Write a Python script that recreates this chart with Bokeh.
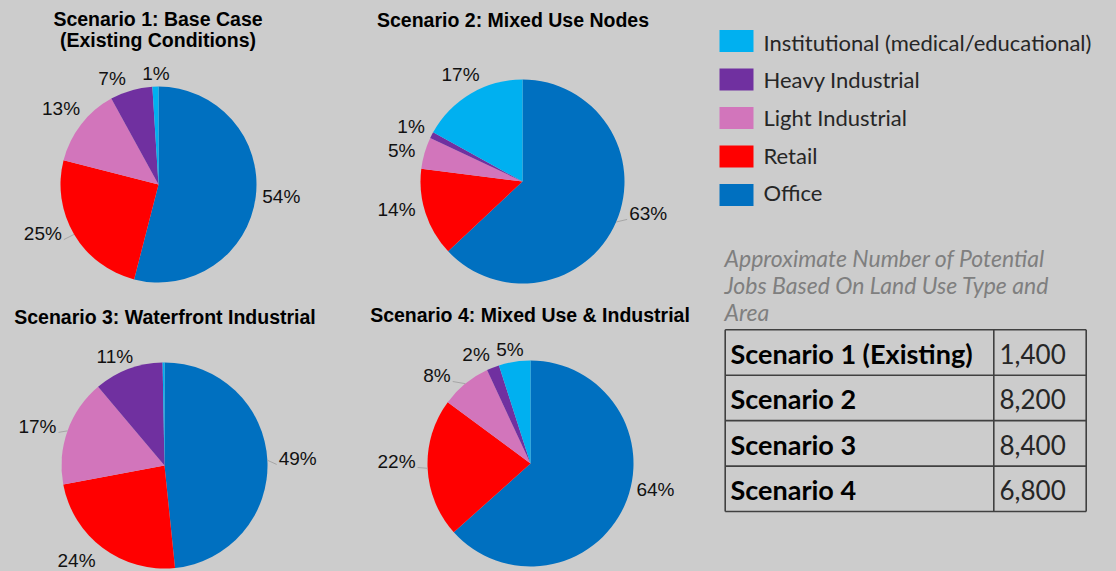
import numpy as np
from bokeh.plotting import figure
from bokeh.models import Range1d
from bokeh.embed import file_html
from bokeh.resources import INLINE
from bokeh.core.properties import value

# ---------------- data ----------------
categories = ["Office", "Retail", "Light Industrial", "Heavy Industrial",
              "Institutional (medical/educational)"]
colors = ["#0070c0", "#ff0000", "#d275bb", "#7030a0", "#00b0f0"]

scenario1 = [54, 25, 13, 7, 1]
scenario2 = [63, 14, 5, 1, 17]
scenario3 = [49, 24, 17, 11, 0.3]
scenario4 = [64, 22, 8, 2, 5]

titles = [
    ["Scenario 1: Base Case", "(Existing Conditions)"],
    ["Scenario 2: Mixed Use Nodes"],
    ["Scenario 3: Waterfront Industrial"],
    ["Scenario 4: Mixed Use & Industrial"],
]

legend_order = ["Institutional (medical/educational)", "Heavy Industrial",
                "Light Industrial", "Retail", "Office"]

caption = ["Approximate Number of Potential", "Jobs Based On Land Use Type and", "Area"]
table_labels = ["Scenario 1 (Existing)", "Scenario 2", "Scenario 3", "Scenario 4"]
jobs = [1400, 8200, 8400, 6800]

# ---------------- layout (screen px, y down) ----------------
W, H = 1116, 571
def Y(v):
    return H - v

BASE_FIX = 0.38  # renderer places alphabetic baseline lower by about this many em
def TB(v, fs):
    """screen baseline -> data y for a text of font size fs"""
    return Y(v - BASE_FIX * fs)

pies = [
    dict(vals=scenario1, cx=158, cy=184, r=98, title_y=[26, 46.7], title_x=157.5,
         nudge=[(0, -3), (-9, -14), (0, 0), (-14.5, 4), (1, 1)],
         leader=[False, True, False, False, False]),
    dict(vals=scenario2, cx=522, cy=181, r=102, title_y=[26.7], title_x=512.5,
         nudge=[(8, -19), (-4, -11), (-2.5, 4), (-1.5, 1), (1, 0)],
         leader=[True, False, False, False, False]),
    dict(vals=scenario3, cx=164, cy=465, r=103, title_y=[324.3], title_x=164.5,
         nudge=[(5, -0.5), (-12.5, -6), (-5.3, 4.3), (-6.6, 5.7), (0, 0)],
         leader=[True, False, True, False, False]),
    dict(vals=scenario4, cx=530, cy=463, r=103, title_y=[322.3], title_x=529.5,
         nudge=[(7, -26), (-5.8, -8), (-15.7, 7.4), (-10.5, 3.2), (-2.2, 2.6)],
         leader=[False, True, True, False, False]),
]

p = figure(width=W, height=H, x_range=Range1d(0, W), y_range=Range1d(0, H),
           output_backend="svg", toolbar_location=None, x_axis_type=None, y_axis_type=None,
           min_border=0, background_fill_color="#cccccc", border_fill_color="#cccccc")
p.grid.visible = False
p.outline_line_color = None

LABEL_FS = 19.0
TITLE_FS = 19.5
LEG_FS = 22.0
CAP_FS = 23.0
TAB_FS = 27.0
NUM_FS = 26.0
arial = value("Liberation Sans")
calibri = value("Lato")

for k, pie in enumerate(pies):
    vals = np.array(pie["vals"], dtype=float)
    frac = vals / vals.sum()
    cum = np.concatenate([[0.0], np.cumsum(frac)])
    start = np.pi / 2 - 2 * np.pi * cum[:-1]
    end = np.pi / 2 - 2 * np.pi * cum[1:]
    cx, cy, r = pie["cx"], pie["cy"], pie["r"]
    p.wedge(x=[cx] * len(vals), y=[Y(cy)] * len(vals), radius=r,
            start_angle=list(start), end_angle=list(end), direction="clock",
            fill_color=colors, line_color=None)

    lx, ly, lt = [], [], []
    sx0, sy0, sx1, sy1 = [], [], [], []
    mid = (cum[:-1] + cum[1:]) / 2
    for i, v in enumerate(vals):
        if v < 0.5:
            continue
        txt = f"{round(v)}%"
        ndig = len(txt) - 1
        w = LABEL_FS * (0.556 * ndig + 0.889)
        h = 14.0
        dsx = np.sin(2 * np.pi * mid[i])
        dsy = -np.cos(2 * np.pi * mid[i])
        d = 6 + abs(dsx) * w / 2 + abs(dsy) * h / 2
        ncx = cx + (r + d) * dsx + pie["nudge"][i][0]
        ncy = cy + (r + d) * dsy + pie["nudge"][i][1]
        lx.append(ncx)
        ly.append(TB(ncy + 7, LABEL_FS))
        lt.append(txt)
        if pie["leader"][i]:
            ex, ey = cx + r * dsx, cy + r * dsy
            side = 1 if dsx > 0 else -1
            sx0.append(ex)
            sy0.append(Y(ey))
            sx1.append(ncx - side * (w / 2 + 2))
            sy1.append(Y(ncy + 6))
    if sx0:
        p.segment(x0=sx0, y0=sy0, x1=sx1, y1=sy1, line_color="#a6a6a6", line_width=1)
    p.text(x=lx, y=ly, text=lt, text_font=arial, text_font_size=f"{LABEL_FS}px",
           text_align="center", text_baseline="alphabetic", text_color="#111111")

    p.text(x=[pie["title_x"]] * len(titles[k]), y=[TB(t, TITLE_FS) for t in pie["title_y"]],
           text=titles[k], text_font=arial, text_font_style="bold",
           text_font_size=f"{TITLE_FS}px", text_align="center", text_baseline="alphabetic",
           text_color="#000000")

# ---------------- legend ----------------
sq_y = [40.5 + 38.5 * i for i in range(len(legend_order))]
tx_y = [50 + 37.7 * i for i in range(len(legend_order))]
leg_colors = [colors[categories.index(c)] for c in legend_order]
p.rect(x=[736] * len(legend_order), y=[Y(v) for v in sq_y], width=34, height=22,
       fill_color=leg_colors, line_color=None)
p.text(x=[763] * len(legend_order), y=[TB(v, LEG_FS) for v in tx_y], text=legend_order,
       text_font=calibri, text_font_size=f"{LEG_FS}px", text_align="left",
       text_baseline="alphabetic", text_color="#262626")

# ---------------- caption ----------------
p.text(x=[724] * len(caption), y=[TB(266.7 + 26.7 * i, CAP_FS) for i in range(len(caption))],
       text=caption, text_font=calibri, text_font_style="italic",
       text_font_size=f"{CAP_FS}px", text_align="left", text_baseline="alphabetic",
       text_color="#7f7f7f")

# ---------------- table ----------------
t_left, t_right, t_top, t_bot, t_col = 724.7, 1085.7, 329.3, 511.0, 993.3
n = len(table_labels)
rh = (t_bot - t_top) / n
hx0 = [t_left] * (n + 1)
hx1 = [t_right] * (n + 1)
hy = [Y(t_top + rh * k) for k in range(n + 1)]
p.segment(x0=hx0, y0=hy, x1=hx1, y1=hy, line_color="#404040", line_width=1.6)
p.segment(x0=[t_left, t_col, t_right], y0=[Y(t_top)] * 3, x1=[t_left, t_col, t_right],
          y1=[Y(t_bot)] * 3, line_color="#404040", line_width=1.6)
p.text(x=[730] * n, y=[TB(t_top + rh * k + 34, TAB_FS) for k in range(n)], text=table_labels,
       text_font=calibri, text_font_style="bold", text_font_size=f"{TAB_FS}px",
       text_align="left", text_baseline="alphabetic", text_color="#000000")
p.text(x=[999] * n, y=[TB(t_top + rh * k + 34, NUM_FS) for k in range(n)],
       text=[f"{j:,}" for j in jobs], text_font=calibri, text_font_size=f"{NUM_FS}px",
       text_align="left", text_baseline="alphabetic", text_color="#262626")

template = """
{% block postamble %}
<style>html, body { background: #cccccc; margin: 0; padding: 0; overflow: hidden; }</style>
{% endblock %}
"""
open("out.html", "w").write(file_html(p, INLINE, template=template))
